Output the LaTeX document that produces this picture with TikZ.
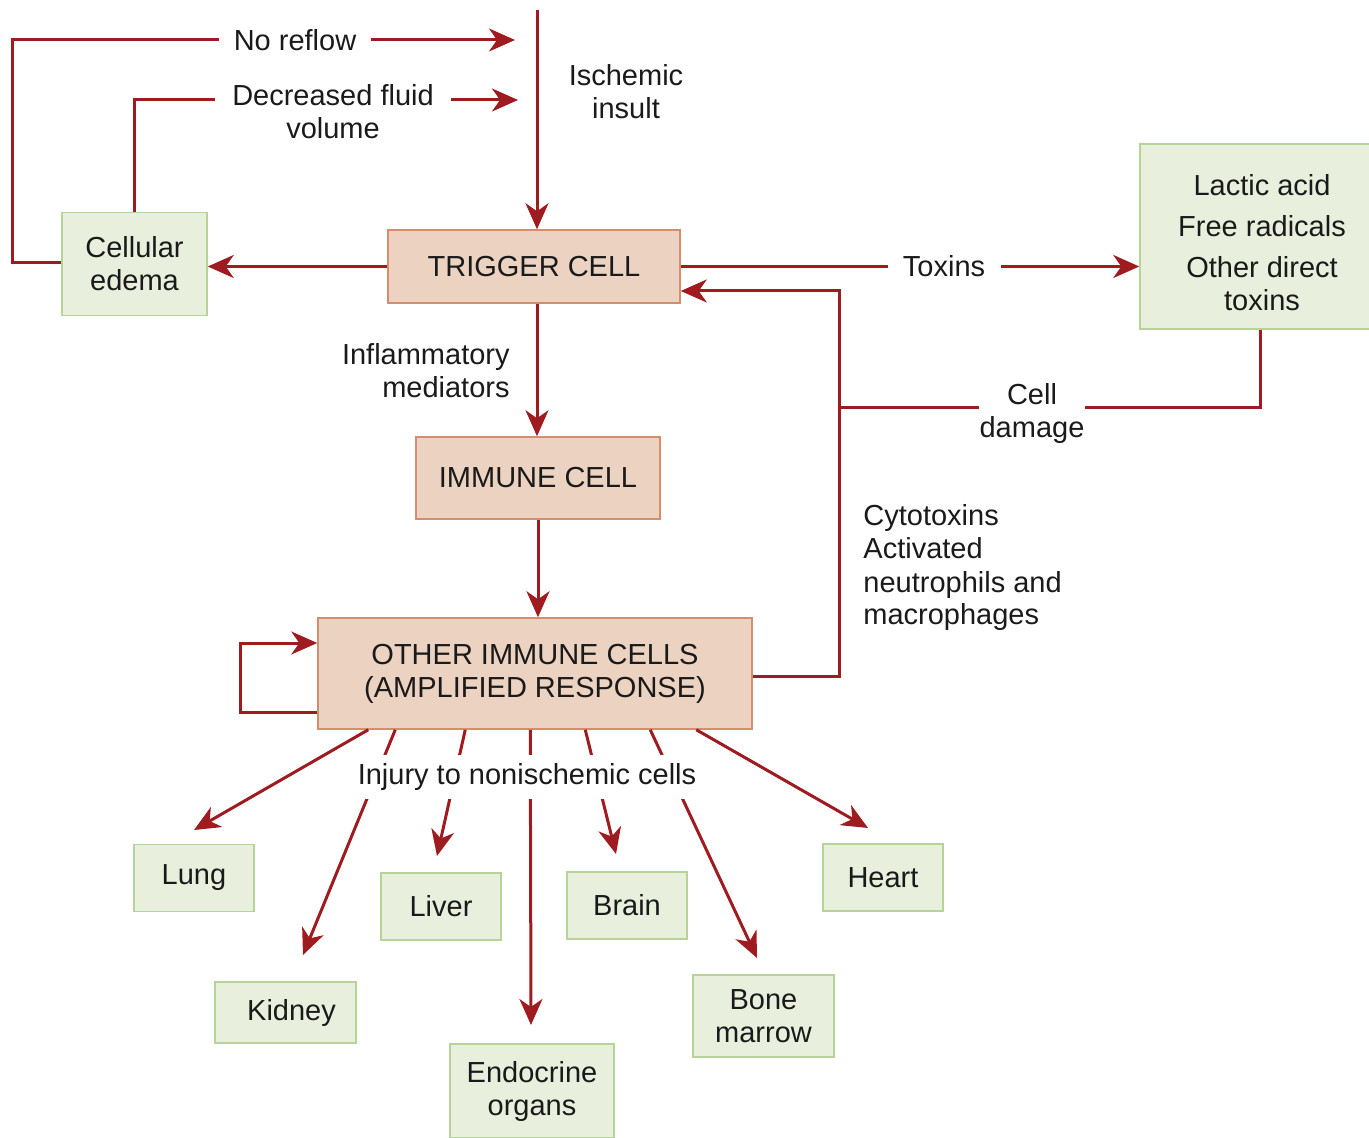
\documentclass[tikz,border=0pt]{standalone}
\usepackage{fontspec}
\setmainfont{Liberation Sans}
\usetikzlibrary{arrows.meta,calc}
\definecolor{lred}{RGB}{158,27,32}
\definecolor{pfill}{RGB}{236,211,193}
\definecolor{pdraw}{RGB}{214,140,110}
\definecolor{gfill}{RGB}{232,240,221}
\definecolor{gdraw}{RGB}{182,211,152}
\definecolor{txt}{RGB}{26,26,26}
\tikzset{
  base/.style={font=\fontsize{14.5}{16.5}\selectfont, text=txt},
  pbox/.style={base, draw=pdraw, fill=pfill, line width=0.75pt, align=center, inner sep=0pt},
  gbox/.style={base, draw=gdraw, fill=gfill, line width=0.75pt, align=center, inner sep=0pt},
  lbl/.style={base, align=center, inner xsep=7pt, inner ysep=0pt},
  wire/.style={draw=lred, line width=1.5pt},
  arr/.style={wire, -{Stealth[length=13pt,width=11.5pt,inset=4pt]}}
}
\begin{document}
\begin{tikzpicture}[x=0.5pt,y=-0.5pt]
\useasboundingbox (0,0) rectangle (1369,1138);
% boxes
\node[pbox, minimum width=146pt, minimum height=36.5pt] (trig) at (534,266.5) {TRIGGER CELL};
\node[gbox, minimum width=72.5pt, minimum height=51.5pt] (edema) at (134.5,264) {Cellular\\edema};
\node[gbox, minimum width=122pt, minimum height=92.5pt] (lactic) at (1262,236.5) {Lactic acid\\[4pt]Free radicals\\[4pt]Other direct\\toxins\\[-22pt]\raisebox{0pt}[0pt][0pt]{}};
\node[pbox, minimum width=122pt, minimum height=41pt] (imm) at (538,478) {IMMUNE CELL};
\node[pbox, minimum width=217pt, minimum height=55.5pt] (other) at (535,673.5) {OTHER IMMUNE CELLS\\(AMPLIFIED RESPONSE)};
\node[gbox, minimum width=60pt, minimum height=33.5pt] (lung) at (194,878) {Lung};
\node[gbox, minimum width=70.5pt, minimum height=30.5pt] (kidney) at (285.5,1012.5) {\hspace*{6pt}Kidney};
\node[gbox, minimum width=60pt, minimum height=33.5pt] (liver) at (441,906.5) {Liver};
\node[gbox, minimum width=82pt, minimum height=47pt] (endo) at (532,1091) {Endocrine\\organs};
\node[gbox, minimum width=60pt, minimum height=33.5pt] (brain) at (627,905.5) {Brain};
\node[gbox, minimum width=70.5pt, minimum height=41pt] (bone) at (763.5,1016) {Bone\\marrow};
\node[gbox, minimum width=60pt, minimum height=33.5pt] (heart) at (883,877.5) {Heart};
% labels
\node[lbl] (nr) at (295,40) {No reflow};
\node[lbl, inner xsep=8.5pt] (dfl) at (333,112) {Decreased fluid\\volume};
\node[lbl] (isch) at (626,92) {Ischemic\\insult};
\node[lbl, inner xsep=7.5pt] (tox) at (944,266.5) {Toxins};
\node[lbl, inner xsep=0pt] (cd) at (1032,414) {Cell\\damage};
\node[lbl, inner sep=0pt, anchor=east, align=right] (infl) at (510,371) {Inflammatory\\mediators};
\node[lbl, inner sep=0pt, anchor=west, align=left] (cyto) at (863,568) {Cytotoxins\\Activated\\neutrophils and\\macrophages};
% coordinates
\coordinate (insTop) at (537,10);
\coordinate (nrEnd) at (515,40);
\coordinate (dfEnd) at (518,100);
\coordinate (jx) at (839,291);
\coordinate (eLung) at (194,830);
\coordinate (eKid) at (303,955);
\coordinate (eLiv) at (437,856);
\coordinate (eEndo) at (531,1025);
\coordinate (eBrain) at (616,854);
\coordinate (eBone) at (757,958);
\coordinate (eHeart) at (868,828);
% top connectors
\draw[arr] (insTop) -- (insTop |- trig.north);
\draw[wire] ([yshift=0.5pt]edema.west) -| (12,40) -- (nr.west);
\draw[arr] (nr.east) -- (nrEnd);
\draw[wire] (edema.north) |- (dfl.west |- dfEnd);
\draw[arr] (dfl.east |- dfEnd) -- (dfEnd);
\draw[arr] (trig.west) -- (edema.east |- trig.west);
\draw[wire] (trig.east) -- (trig.east -| tox.west);
\draw[arr] (tox.east) -- (tox.east -| lactic.west);
\draw[wire] ([xshift=-1pt]lactic.south) |- ([yshift=3pt]cd.east);
\draw[wire] ([yshift=3pt]cd.west) -- ([yshift=3pt]cd.west -| jx);
\draw[arr] ([yshift=-1.25pt]other.east) -| (jx) -- (jx -| trig.east);
\draw[arr] (insTop |- trig.south) -- (insTop |- imm.north);
\draw[arr] (imm.south) -- (imm.south |- other.north);
\draw[arr] ([yshift=-19.25pt]other.west) -- ++(-77,0) |- ([yshift=15.25pt]other.west);
% injury arrows
\draw[arr] ($(other.south west)+(51,0)$) -- (eLung);
\draw[arr] ($(other.south west)+(78,0)$) -- (eKid);
\draw[arr] ($(other.south west)+(148,0)$) -- (eLiv);
\draw[arr] ($(other.south west)+(213,0)$) -- (eEndo);
\draw[arr] ($(other.south west)+(268,0)$) -- (eBrain);
\draw[arr] ($(other.south west)+(333,0)$) -- (eBone);
\draw[arr] ($(other.south west)+(379,0)$) -- (eHeart);
\node[base, fill=white, inner xsep=2pt, inner ysep=4pt] (inj) at (527,777) {Injury to nonischemic cells};
\end{tikzpicture}
\end{document}
